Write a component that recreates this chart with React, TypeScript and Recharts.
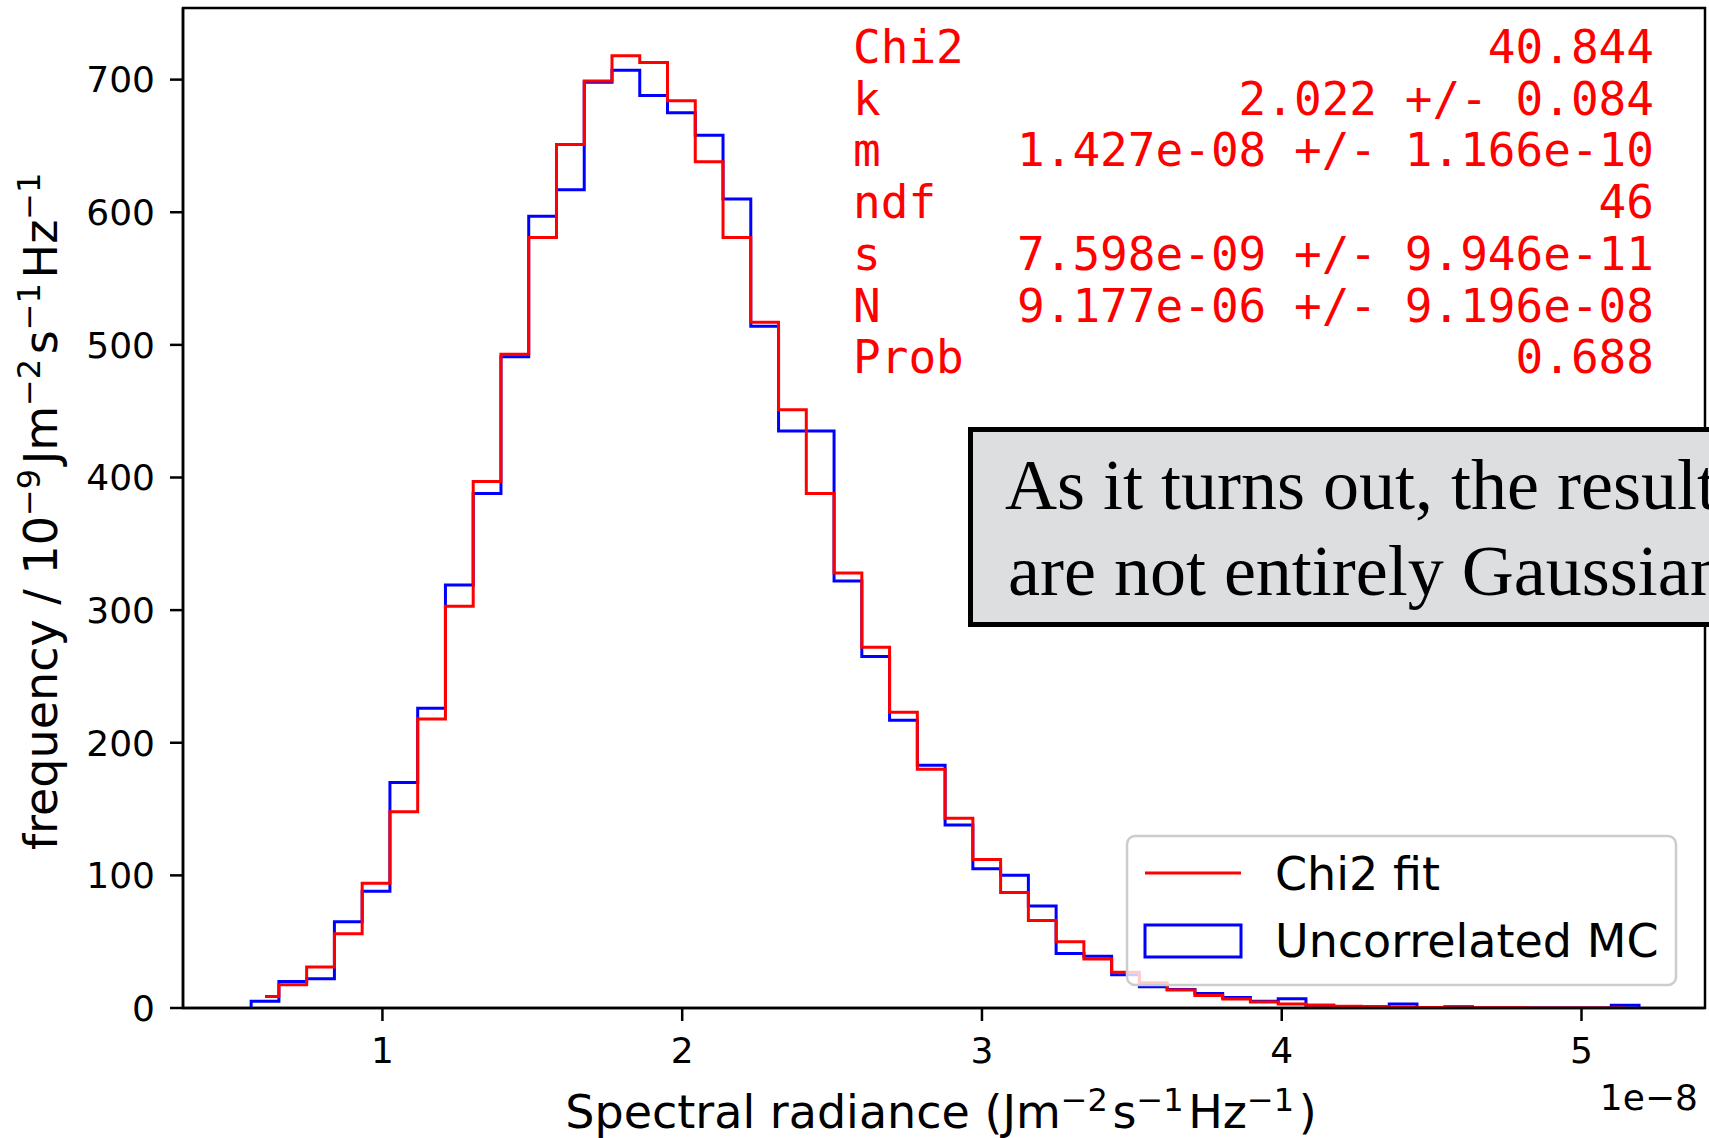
import React from 'react';
import { LineChart, Line, XAxis, YAxis, ReferenceArea } from 'recharts';

// histogram binning (units of 1e-8 Jm^-2 s^-1 Hz^-1)
const BIN_START = 0.562;
const BIN_WIDTH = 0.0926;

// Uncorrelated MC histogram counts, 50 bins
const MC_COUNTS = [
  5, 20, 22, 65, 88, 170, 226, 319, 388, 491,
  597, 617, 698, 707, 688, 675, 658, 610, 514, 435,
  435, 322, 265, 217, 183, 138, 105, 100, 77, 41,
  39, 25, 16, 14, 11, 8, 5, 7, 2, 1,
  1, 3, 0, 1, 0, 0, 0, 0, 0, 2,
];

// Chi2 fit evaluated per bin (drawn at bin centres)
const FIT_VALUES = [
  8.7, 17.5, 31, 56, 94, 148, 218, 303, 397, 493,
  581, 651, 699, 718, 713, 684, 638, 581, 517, 451,
  388, 328, 272, 223, 180, 143, 112, 87, 66, 50,
  37, 27, 19, 13.5, 9.5, 6.7, 4.5, 3.1, 2.1, 1.4,
  0.95, 0.63, 0.42, 0.28, 0.18, 0.12, 0.08, 0.05, 0.03, 0.02,
];

const X_TICKS = [1, 2, 3, 4, 5];
const Y_TICKS = [0, 100, 200, 300, 400, 500, 600, 700];
const X_DOMAIN: [number, number] = [0.3347, 5.412];
const Y_DOMAIN: [number, number] = [0, 754];

const FIT_NAMES = ['Chi2', 'k', 'm', 'ndf', 's', 'N', 'Prob'];
const FIT_RESULTS = [
  '40.844',
  '2.022 +/- 0.084',
  '1.427e-08 +/- 1.166e-10',
  '46',
  '7.598e-09 +/- 9.946e-11',
  '9.177e-06 +/- 9.196e-08',
  '0.688',
];

const LEGEND_LABELS = ['Chi2 fit', 'Uncorrelated MC'];
const NOTE_LINES = ['As it turns out, the result', 'are not entirely Gaussian'];

const W = 1709;
const H = 1138;
const SANS = 'DejaVu Sans, sans-serif';
const MONO = 'DejaVu Sans Mono, monospace';
const SERIF = 'Liberation Serif, serif';

const edge = (i: number) => BIN_START + i * BIN_WIDTH;

// step outline of the histogram, closed down to zero at both ends
const mcLine = [
  { x: edge(0), y: 0 },
  ...MC_COUNTS.map((c, i) => ({ x: edge(i), y: c })),
  { x: edge(MC_COUNTS.length), y: 0 },
];

const fitLine = FIT_VALUES.map((v, i) => ({ x: edge(i) + BIN_WIDTH / 2, y: v }));

const Sup = ({ children }: { children: string }) => (
  <>
    <tspan dy={-17} fontSize={32}>{children}</tspan>
    <tspan dy={17}>{'\u200a'}</tspan>
  </>
);

const App = () => {
  return (
    <div
      style={{
        position: 'absolute',
        left: 0,
        top: 0,
        width: W,
        height: H,
        overflow: 'hidden',
        background: '#fff',
      }}
    >
      <LineChart
        width={W}
        height={H}
        margin={{ top: 8, right: 4, bottom: 70, left: 83 }}
      >
        <XAxis
          type="number"
          dataKey="x"
          domain={X_DOMAIN}
          ticks={X_TICKS}
          allowDataOverflow
          interval={0}
          height={60}
          tickSize={13}
          tickMargin={16}
          tick={{ fontSize: 36, fill: '#000', fontFamily: SANS }}
          axisLine={{ stroke: '#000', strokeWidth: 2.5 }}
          tickLine={{ stroke: '#000', strokeWidth: 2.5 }}
        />
        <YAxis
          type="number"
          domain={Y_DOMAIN}
          ticks={Y_TICKS}
          allowDataOverflow
          interval={0}
          width={100}
          tickSize={13}
          tickMargin={15}
          tick={{ fontSize: 36, fill: '#000', fontFamily: SANS }}
          axisLine={{ stroke: '#000', strokeWidth: 2.5 }}
          tickLine={{ stroke: '#000', strokeWidth: 2.5 }}
        />
        <Line
          data={mcLine}
          dataKey="y"
          type="stepAfter"
          stroke="#0000ff"
          strokeWidth={3}
          dot={false}
          activeDot={false}
          isAnimationActive={false}
        />
        <Line
          data={fitLine}
          dataKey="y"
          type="step"
          stroke="#ff0000"
          strokeWidth={3}
          dot={false}
          activeDot={false}
          isAnimationActive={false}
        />
        <ReferenceArea
          x1={X_DOMAIN[0]}
          x2={X_DOMAIN[1]}
          y1={Y_DOMAIN[0]}
          y2={Y_DOMAIN[1]}
          fill="none"
          stroke="#000"
          strokeWidth={2.5}
        />
      </LineChart>

      {/* titles, fit box, legend and slide note */}
      <svg
        width={W}
        height={H}
        style={{ position: 'absolute', left: 0, top: 0, pointerEvents: 'none' }}
      >
        <text
          x={941}
          y={1128}
          textAnchor="middle"
          fontSize={46}
          fontFamily={SANS}
          fill="#000"
        >
          Spectral radiance (Jm<Sup>{'\u22122'}</Sup>s<Sup>{'\u22121'}</Sup>Hz
          <Sup>{'\u22121'}</Sup>)
        </text>
        <text
          x={1698}
          y={1110}
          textAnchor="end"
          fontSize={36}
          fontFamily={SANS}
          fill="#000"
        >
          1e{'\u2212'}8
        </text>
        <text
          transform="rotate(-90, 57, 509)"
          x={57}
          y={509}
          textAnchor="middle"
          fontSize={46}
          fontFamily={SANS}
          fill="#000"
        >
          frequency / 10<Sup>{'\u22129'}</Sup>Jm<Sup>{'\u22122'}</Sup>s
          <Sup>{'\u22121'}</Sup>Hz<Sup>{'\u22121'}</Sup>
        </text>

        {FIT_NAMES.map((name, i) => (
          <g key={name}>
            <text x={853} y={63 + i * 51.7} fontSize={46} fontFamily={MONO} fill="#ff0000">
              {name}
            </text>
            <text
              x={1654}
              y={63 + i * 51.7}
              textAnchor="end"
              fontSize={46}
              fontFamily={MONO}
              fill="#ff0000"
            >
              {FIT_RESULTS[i]}
            </text>
          </g>
        ))}

        {/* legend */}
        <rect
          x={1127}
          y={836}
          width={549}
          height={149}
          rx={8}
          fill="#fff"
          fillOpacity={0.8}
          stroke="#cccccc"
          strokeWidth={2.5}
        />
        <line x1={1145} y1={873} x2={1241} y2={873} stroke="#ff0000" strokeWidth={3} />
        <rect x={1145} y={925} width={96} height={32} fill="none" stroke="#0000ff" strokeWidth={3} />
        <text x={1275} y={890} fontSize={46} fontFamily={SANS} fill="#000">
          {LEGEND_LABELS[0]}
        </text>
        <text x={1275} y={957} fontSize={46} fontFamily={SANS} fill="#000">
          {LEGEND_LABELS[1]}
        </text>

        {/* slide note box, cut at the page edge */}
        <rect
          x={970.5}
          y={429.5}
          width={800}
          height={195}
          fill="#dddee0"
          stroke="#000"
          strokeWidth={5}
        />
        <text x={1005} y={509} fontSize={72} fontFamily={SERIF} fill="#000">
          {NOTE_LINES[0]}
        </text>
        <text x={1008} y={595} fontSize={72} fontFamily={SERIF} fill="#000">
          {NOTE_LINES[1]}
        </text>
      </svg>
    </div>
  );
};

export default App;
